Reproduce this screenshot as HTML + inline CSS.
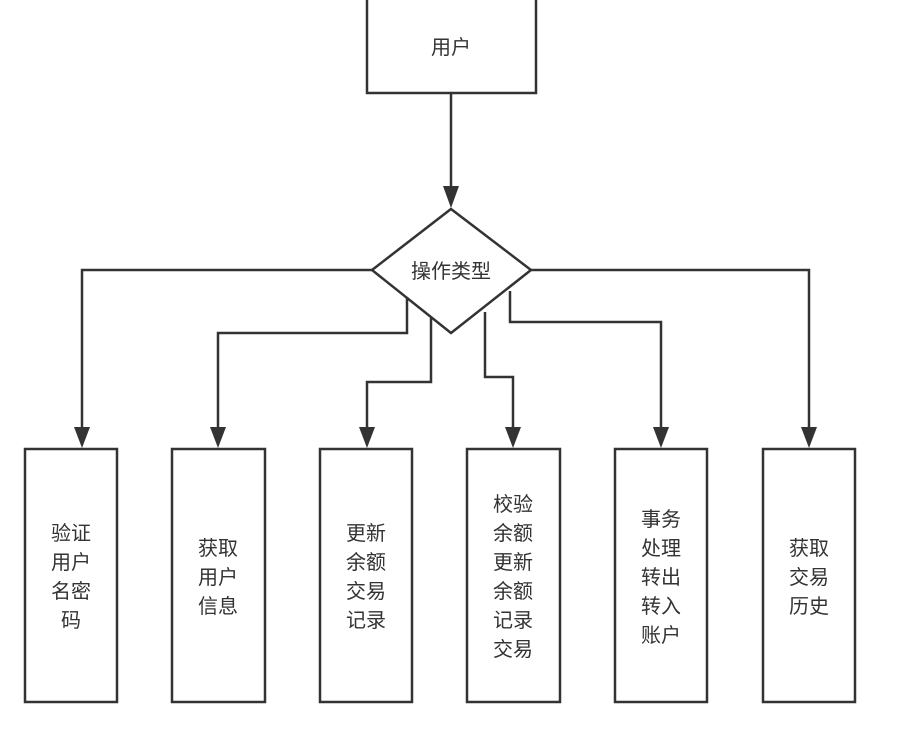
<!DOCTYPE html>
<html><head><meta charset="utf-8"><style>
body{margin:0;background:#fff;}
svg text{font-family:"Liberation Sans","Noto Sans CJK SC",sans-serif;font-size:20px;fill:#333;text-anchor:middle;}
</style></head><body>
<svg width="907" height="734" viewBox="0 0 907 734" xmlns="http://www.w3.org/2000/svg">
<defs><marker id="a" markerWidth="10" markerHeight="10" refX="5" refY="10" orient="auto" markerUnits="userSpaceOnUse" viewBox="0 0 10 10"><path d="M0,0 L5,10 L10,0 Z" fill="#333" transform="rotate(-90 5 5)"/></marker></defs>
<g fill="none" stroke="#333" stroke-width="2.5">
<rect x="367" y="-5" width="169" height="98" fill="#fff"/>
<polygon points="451,209 531,270 451,333 372,270" fill="#fff"/>
<rect x="25" y="449" width="92" height="253"/>
<rect x="172" y="449" width="93" height="253"/>
<rect x="320" y="449" width="92" height="253"/>
<rect x="467" y="449" width="93" height="253"/>
<rect x="615" y="449" width="92" height="253"/>
<rect x="763" y="449" width="92" height="253"/>
<path d="M451,93 V188"/>
<path d="M372,270 H82 V428"/>
<path d="M407,297 V333 H218 V428"/>
<path d="M431,318 V382 H367 V428"/>
<path d="M485,312 V377 H513 V428"/>
<path d="M510,291 V322 H661 V428"/>
<path d="M531,270 H809 V428"/>
</g>
<g fill="#333">
<path d="M443,186 L459,186 L451,208 Z"/>
<path d="M74,427 L90,427 L82,448 Z"/>
<path d="M210,427 L226,427 L218,448 Z"/>
<path d="M359,427 L375,427 L367,448 Z"/>
<path d="M505,427 L521,427 L513,448 Z"/>
<path d="M653,427 L669,427 L661,448 Z"/>
<path d="M801,427 L817,427 L809,448 Z"/>
</g>
<text x="451" y="54">用户</text>
<text x="451" y="278">操作类型</text>
<text x="71" y="540">验证</text><text x="71" y="569">用户</text><text x="71" y="598">名密</text><text x="71" y="627">码</text>
<text x="218" y="555">获取</text><text x="218" y="584">用户</text><text x="218" y="613">信息</text>
<text x="366" y="540">更新</text><text x="366" y="569">余额</text><text x="366" y="598">交易</text><text x="366" y="627">记录</text>
<text x="513" y="511">校验</text><text x="513" y="540">余额</text><text x="513" y="569">更新</text><text x="513" y="598">余额</text><text x="513" y="627">记录</text><text x="513" y="656">交易</text>
<text x="661" y="526">事务</text><text x="661" y="555">处理</text><text x="661" y="584">转出</text><text x="661" y="613">转入</text><text x="661" y="642">账户</text>
<text x="809" y="555">获取</text><text x="809" y="584">交易</text><text x="809" y="613">历史</text>
</svg>
</body></html>
